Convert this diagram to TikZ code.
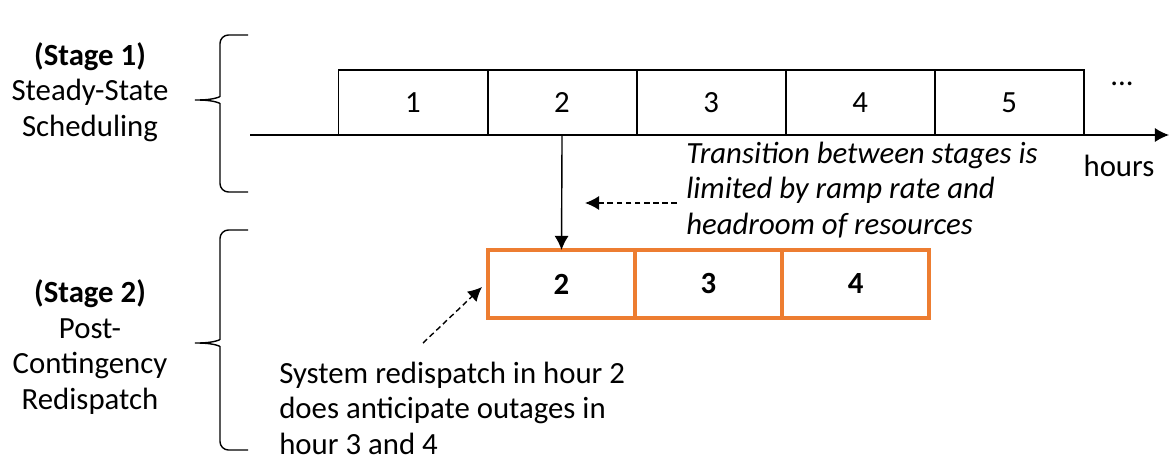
\documentclass[tikz,border=0pt]{standalone}
\usepackage{fontspec}
\setmainfont{Carlito}
\usetikzlibrary{positioning,arrows.meta}
\definecolor{hourorange}{RGB}{237,125,49}
\newcommand{\diagfont}{\fontsize{21.9}{25.3}\selectfont}

\begin{document}
\begin{tikzpicture}[x=0.025cm, y=-0.025cm,
        every node/.style={font=\diagfont},
        hourbox/.style={draw, line width=1.4pt, outer sep=0pt, minimum width=3.725cm, minimum height=1.625cm},
        redbox/.style={draw=hourorange, line width=2.4pt, outer sep=0pt, minimum width=3.675cm, minimum height=1.7cm, font=\diagfont\bfseries},
        note/.style={align=left, anchor=west, inner sep=0pt},
        stagetext/.style={align=center, inner sep=0pt},
        bracestroke/.style={line width=1pt, rounded corners=6},
        dasharrow/.style={dash pattern=on 4pt off 2.5pt, line width=1pt, -{Latex[length=10pt,width=10pt]}},
        solidarrow/.style={line width=1pt, -{Latex[length=10pt,width=10pt]}}]
        \useasboundingbox (0,0) rectangle (1170,460);

        % stage labels and braces
        \node[stagetext] (s1) at (90,92) {\textbf{(Stage 1)}\\Steady-State\\Scheduling};
        \node[stagetext] (s2) at (90,347) {\textbf{(Stage 2)}\\Post-\\Contingency\\Redispatch};
        \draw[bracestroke] (248,35) -| (220,88) .. controls (220,97) and (212,100) .. (190,100) .. controls (212,100) and (220,103) .. (220,112) |- (248,192);
        \draw[bracestroke] (248,230) -| (220,331) .. controls (220,340) and (212,343) .. (190,343) .. controls (212,343) and (220,346) .. (220,355) |- (248,450);

        % stage 1: hours
        \node[hourbox] (h1) at (413,102.5) {1};
        \node[hourbox] (h2) [right=0cm of h1] {2};
        \node[hourbox] (h3) [right=0cm of h2] {3};
        \node[hourbox] (h4) [right=0cm of h3] {4};
        \node[hourbox] (h5) [right=0cm of h4] {5};
        \node (dots) at (1122,84) {...};
        \coordinate (t0) at (250,135);
        \coordinate (t1) at (1169,135);
        \draw[solidarrow] (t0) -- (t1);
        \node (hrs) at (1119,166) {hours};

        % stage 2: redispatch
        \node[redbox] (o2) at (561.5,284) {2};
        \node[redbox] (o3) [right=0cm of o2] {3};
        \node[redbox] (o4) [right=0cm of o3] {4};
        \draw[solidarrow] (h2.south) -- (o2.north);

        % notes
        \node[note, font=\diagfont\itshape] (trans) at (686,190) {Transition between stages is\\limited by ramp rate and\\headroom of resources};
        \coordinate (ta) at (677,203);
        \coordinate (tb) at (585,203);
        \draw[dasharrow] (ta) -- (tb);
        \node[note] (sys) at (279,408) {System redispatch in hour 2\\does anticipate outages in\\hour 3 and 4};
        \coordinate (sa) at (423,343);
        \coordinate (sb) at (482,287);
        \draw[dasharrow] (sa) -- (sb);
\end{tikzpicture}
\end{document}
